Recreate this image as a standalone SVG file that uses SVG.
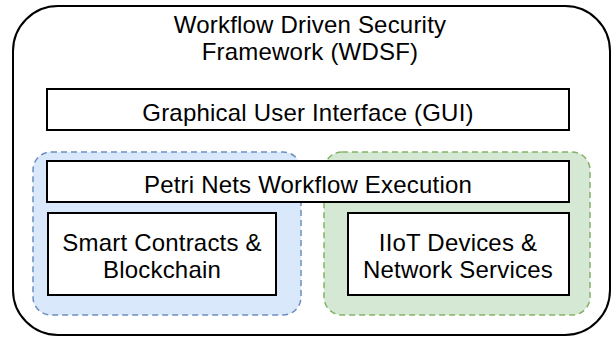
<svg xmlns="http://www.w3.org/2000/svg" width="616" height="339" viewBox="0 0 616 339">
<style>
text{font-family:"Liberation Sans",Arial,Helvetica,sans-serif;font-size:24px;fill:#000;text-anchor:middle;letter-spacing:0.2px}
.box{fill:#fff;stroke:#000;stroke-width:2}
.grp{stroke-width:1.5;stroke-dasharray:6 4}
</style>
<rect width="616" height="339" fill="#fff"/>
<g id="wdsf">
<rect x="13" y="6" width="597" height="329" rx="45" ry="45" fill="#fff" stroke="#000" stroke-width="2"/>
<text x="310" y="33">Workflow Driven Security</text>
<text x="310" y="60">Framework (WDSF)</text>
</g>
<g id="gui">
<rect class="box" x="47" y="89" width="522" height="41"/>
<text x="308" y="121">Graphical User Interface (GUI)</text>
</g>
<g id="blockchain-group">
<rect class="grp" x="33" y="152" width="268" height="163" rx="18" ry="18" fill="#dae8fc" stroke="#6c8ebf"/>
</g>
<g id="iiot-group">
<rect class="grp" x="324" y="152" width="266" height="163" rx="18" ry="18" fill="#d5e8d4" stroke="#82b366"/>
</g>
<g id="petri">
<rect class="box" x="47" y="161" width="522" height="41"/>
<text x="308" y="193">Petri Nets Workflow Execution</text>
</g>
<g id="smart">
<rect class="box" x="48" y="213" width="228" height="82"/>
<text x="162" y="251">Smart Contracts &amp;</text>
<text x="162" y="278">Blockchain</text>
</g>
<g id="iiot">
<rect class="box" x="348" y="213" width="221" height="82"/>
<text x="458" y="251">IIoT Devices &amp;</text>
<text x="458" y="278">Network Services</text>
</g>
<g id="connectors"></g>
</svg>
